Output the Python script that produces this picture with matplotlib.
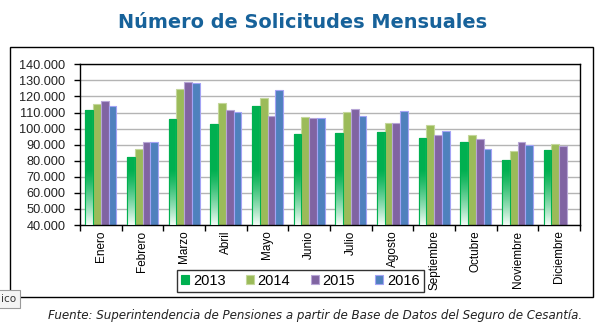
import numpy as np
import matplotlib
matplotlib.use('Agg')
from matplotlib import pyplot as plt
from matplotlib.patches import Rectangle
from matplotlib.ticker import FuncFormatter

# monthly applications per year
months = ['Enero', 'Febrero', 'Marzo', 'Abril', 'Mayo', 'Junio', 'Julio',
          'Agosto', 'Septiembre', 'Octubre', 'Noviembre', 'Diciembre']
years = ['2013', '2014', '2015', '2016']
s2013 = [111600, 82300, 105800, 102900, 114100, 96600, 97300, 97900, 94100, 91700, 80700, 86700]
s2014 = [115500, 87300, 124600, 115900, 118800, 107200, 110100, 103500, 102200, 96000, 86100, 90200]
s2015 = [117200, 91700, 129000, 111600, 107600, 106600, 112200, 103500, 95800, 93500, 91700, 89200]
s2016 = [113900, 91500, 128600, 110500, 123800, 106400, 107600, 111200, 98300, 87100, 90000, np.nan]

colors = ['#00b050', '#9bbb59', '#8064a2', '#4f81bd']
edges = ['#00b050', '#c4d79b', '#b7a6d6', '#a3a3f5']

plt.rcParams['font.family'] = ['Liberation Sans', 'DejaVu Sans']

W, H = 608, 336
fig = plt.figure(figsize=(W / 100, H / 100), dpi=100)

# outer chart frame
fig.patches.append(Rectangle((10 / W, 1 - 297 / H), 583 / W, 250 / H,
                             transform=fig.transFigure, fill=False,
                             edgecolor='black', linewidth=1.0))

ax = fig.add_axes([80 / W, 1 - 225 / H, 500 / W, (225 - 64.3) / H])

x = np.arange(len(months))
width = 0.185
series = [s2013, s2014, s2015, s2016]
containers = []
for i, (vals, lab) in enumerate(zip(series, years)):
    bars = ax.bar(x + (i - 1.5) * width, np.array(vals) - 40000, bottom=40000,
                  width=width, color=colors[i], edgecolor=edges[i],
                  linewidth=0.8, label=lab, zorder=2)
    containers.append(bars)

# 2013 bars fade to white towards the base
n = 64
grad = np.ones((n, 1, 4))
grad[:, 0, 3] = np.linspace(0.97, 0.0, n) ** 1.3
for b in containers[0]:
    x0, w = b.get_x(), b.get_width()
    ax.imshow(grad, extent=[x0, x0 + w, 40000, 75000], origin='lower',
              aspect='auto', zorder=3, interpolation='bilinear')
    ax.add_patch(Rectangle((x0, 40000), w, b.get_height(), fill=False,
                           edgecolor=colors[0], linewidth=0.8, zorder=4))

ax.set_xlim(-0.5, len(months) - 0.5)
ax.set_ylim(40000, 140000)
ax.set_yticks(np.arange(40000, 140001, 10000))
ax.yaxis.set_major_formatter(FuncFormatter(lambda v, p: f'{int(v):,}'.replace(',', '.')))
ax.yaxis.grid(True, color='#b4b4b4', linewidth=1.0, zorder=0)
ax.set_axisbelow(True)

ax.set_xticks(x)
ax.set_xticklabels(months, rotation=90, fontsize=8.5, va='top')
ax.set_xticks(np.arange(-0.5, len(months)), minor=True)
ax.tick_params(axis='x', which='major', length=0, pad=4)
ax.tick_params(axis='x', which='minor', length=4, direction='out', width=1)
ax.tick_params(axis='y', length=4, width=1, labelsize=9.2, pad=6.5,
               labelcolor='#222222')
for sp in ax.spines.values():
    sp.set_color('black')
    sp.set_linewidth(1.0)

leg = fig.legend(handles=containers, labels=years, ncol=4,
                 loc='center', bbox_to_anchor=(300.5 / W, 1 - 281 / H),
                 fontsize=10.5, frameon=True, fancybox=False,
                 handlelength=0.55, handleheight=0.55, handletextpad=0.25,
                 columnspacing=1.4, borderpad=0.3)
leg.get_frame().set_edgecolor('black')
leg.get_frame().set_linewidth(1.0)

fig.text(303 / W, 1 - 22 / H, 'Número de Solicitudes Mensuales',
         ha='center', va='center', fontsize=13.9, fontweight='bold',
         color='#17629a', family='DejaVu Sans')

fig.text(315 / W, 1 - 316 / H,
         'Fuente: Superintendencia de Pensiones a partir de Base de Datos del Seguro de Cesantía.',
         ha='center', va='center', fontsize=8.6, style='italic',
         color='#222222', family='DejaVu Sans')

# tooltip stub at the lower left corner
fig.text(1 / W, 1 - 299 / H, 'ico', ha='left', va='center', fontsize=7.5,
         color='#333333', family='DejaVu Sans',
         bbox=dict(boxstyle='square,pad=0.35', facecolor='#f4f4f4',
                   edgecolor='#9a9a9a', linewidth=0.8))

fig.savefig('out.png', dpi=100)
